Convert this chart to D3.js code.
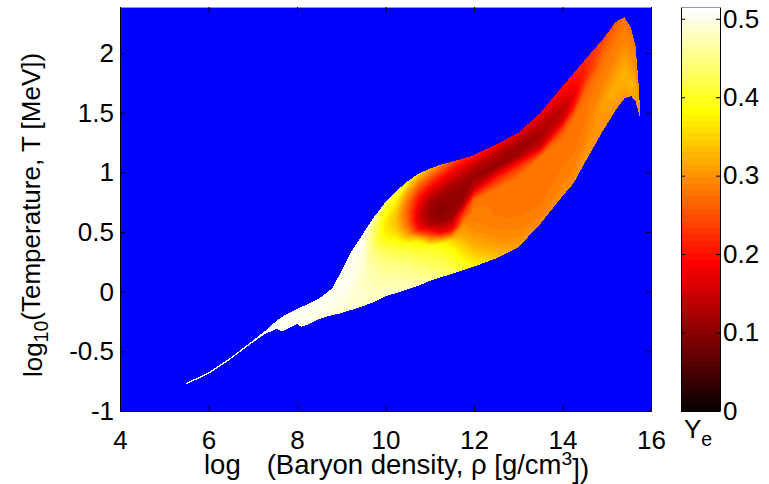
<!DOCTYPE html>
<meta charset="utf-8">
<script src="https://d3js.org/d3.v7.min.js"></script>
<style>
  body { margin: 0; background: #fff; }
  text { font-family: "Liberation Sans", Arial, Helvetica, sans-serif; }
</style>
<div id="chart"></div>
<script>

// columns across the (log rho, log T) strip, lower and upper edge of the strip
var rhoCols = [5.50, 6.00, 6.50, 7.00, 7.30, 7.55, 7.65, 7.80, 8.00, 8.10, 8.20, 8.50, 8.80,
  9.00, 9.25, 9.50, 9.75, 10.00, 10.25, 10.50, 10.75, 11.00, 11.25, 11.50, 11.75, 12.00,
  12.50, 13.00, 13.50, 14.00, 14.25, 14.50, 14.90, 15.20, 15.40, 15.55, 15.65, 15.72, 15.76];
var logTLow = [-0.775, -0.690, -0.565, -0.425, -0.350, -0.310, -0.332, -0.310, -0.270, -0.295, -0.282, -0.230, -0.195,
  -0.180, -0.150, -0.120, -0.085, -0.040, -0.010, 0.020, 0.050, 0.090, 0.120, 0.150, 0.180, 0.210,
  0.280, 0.370, 0.570, 0.800, 0.910, 1.080, 1.340, 1.520, 1.620, 1.640, 1.600, 1.500, 1.440];
var logTHigh = [-0.764, -0.677, -0.552, -0.410, -0.322, -0.240, -0.215, -0.180, -0.145, -0.128, -0.112, -0.058, 0.030,
  0.170, 0.350, 0.490, 0.630, 0.750, 0.845, 0.925, 0.990, 1.030, 1.065, 1.090, 1.115, 1.145,
  1.235, 1.330, 1.500, 1.720, 1.830, 1.940, 2.110, 2.260, 2.300, 2.210, 2.060, 1.740, 1.470];

// Ye across each column, from the lower edge (first) to the upper edge (last)
var yeStrip = [
  [0.51, 0.51, 0.51, 0.51, 0.51, 0.51, 0.51, 0.51, 0.51, 0.51, 0.51],
  [0.51, 0.51, 0.51, 0.51, 0.51, 0.51, 0.51, 0.51, 0.51, 0.51, 0.51],
  [0.51, 0.51, 0.51, 0.51, 0.51, 0.51, 0.51, 0.51, 0.51, 0.51, 0.51],
  [0.51, 0.51, 0.51, 0.51, 0.51, 0.51, 0.51, 0.51, 0.51, 0.51, 0.51],
  [0.51, 0.51, 0.51, 0.51, 0.51, 0.51, 0.51, 0.51, 0.51, 0.51, 0.51],
  [0.505, 0.505, 0.505, 0.505, 0.505, 0.505, 0.505, 0.505, 0.51, 0.51, 0.51],
  [0.50, 0.505, 0.505, 0.505, 0.505, 0.505, 0.505, 0.505, 0.51, 0.51, 0.51],
  [0.50, 0.50, 0.50, 0.505, 0.505, 0.505, 0.505, 0.505, 0.505, 0.51, 0.51],
  [0.495, 0.50, 0.50, 0.50, 0.505, 0.505, 0.505, 0.505, 0.505, 0.51, 0.51],
  [0.495, 0.495, 0.50, 0.50, 0.50, 0.505, 0.505, 0.505, 0.505, 0.51, 0.51],
  [0.495, 0.495, 0.50, 0.50, 0.50, 0.505, 0.505, 0.505, 0.505, 0.51, 0.51],
  [0.49, 0.495, 0.495, 0.50, 0.50, 0.50, 0.505, 0.505, 0.505, 0.505, 0.51],
  [0.49, 0.49, 0.495, 0.495, 0.50, 0.50, 0.50, 0.505, 0.505, 0.505, 0.51],
  [0.49, 0.49, 0.495, 0.495, 0.50, 0.50, 0.50, 0.505, 0.505, 0.505, 0.505],
  [0.485, 0.49, 0.49, 0.495, 0.495, 0.50, 0.50, 0.50, 0.505, 0.505, 0.505],
  [0.48, 0.485, 0.485, 0.48, 0.48, 0.485, 0.49, 0.495, 0.50, 0.50, 0.50],
  [0.485, 0.48, 0.475, 0.47, 0.465, 0.455, 0.44, 0.43, 0.43, 0.44, 0.47],
  [0.48, 0.475, 0.465, 0.455, 0.44, 0.42, 0.39, 0.37, 0.37, 0.39, 0.43],
  [0.48, 0.47, 0.46, 0.445, 0.42, 0.39, 0.35, 0.33, 0.34, 0.37, 0.42],
  [0.475, 0.465, 0.45, 0.43, 0.40, 0.32, 0.27, 0.26, 0.27, 0.31, 0.38],
  [0.47, 0.455, 0.435, 0.41, 0.37, 0.20, 0.16, 0.17, 0.21, 0.27, 0.35],
  [0.46, 0.44, 0.42, 0.40, 0.26, 0.13, 0.11, 0.12, 0.17, 0.24, 0.32],
  [0.45, 0.43, 0.41, 0.38, 0.18, 0.11, 0.10, 0.11, 0.15, 0.21, 0.29],
  [0.43, 0.41, 0.39, 0.35, 0.18, 0.115, 0.105, 0.11, 0.13, 0.18, 0.25],
  [0.41, 0.38, 0.35, 0.32, 0.30, 0.23, 0.12, 0.105, 0.12, 0.16, 0.22],
  [0.38, 0.35, 0.32, 0.30, 0.29, 0.285, 0.27, 0.15, 0.11, 0.14, 0.21],
  [0.34, 0.31, 0.295, 0.285, 0.28, 0.28, 0.28, 0.21, 0.11, 0.13, 0.19],
  [0.31, 0.295, 0.285, 0.28, 0.28, 0.28, 0.28, 0.23, 0.12, 0.12, 0.17],
  [0.295, 0.285, 0.28, 0.28, 0.28, 0.28, 0.275, 0.15, 0.12, 0.145, 0.18],
  [0.30, 0.29, 0.285, 0.28, 0.28, 0.28, 0.245, 0.15, 0.14, 0.17, 0.20],
  [0.30, 0.29, 0.285, 0.28, 0.28, 0.28, 0.27, 0.20, 0.17, 0.19, 0.21],
  [0.31, 0.30, 0.29, 0.285, 0.28, 0.28, 0.275, 0.26, 0.22, 0.21, 0.22],
  [0.30, 0.30, 0.305, 0.31, 0.30, 0.29, 0.285, 0.28, 0.27, 0.255, 0.24],
  [0.30, 0.31, 0.32, 0.32, 0.31, 0.30, 0.29, 0.285, 0.28, 0.27, 0.26],
  [0.30, 0.31, 0.32, 0.325, 0.32, 0.31, 0.30, 0.29, 0.285, 0.28, 0.275],
  [0.31, 0.32, 0.325, 0.32, 0.31, 0.30, 0.295, 0.29, 0.285, 0.28, 0.28],
  [0.31, 0.315, 0.32, 0.315, 0.31, 0.30, 0.295, 0.29, 0.29, 0.285, 0.285],
  [0.30, 0.30, 0.30, 0.30, 0.30, 0.30, 0.30, 0.30, 0.30, 0.30, 0.30],
  [0.30, 0.30, 0.30, 0.30, 0.30, 0.30, 0.30, 0.30, 0.30, 0.30, 0.30]
];

var xTicks = [4, 6, 8, 10, 12, 14, 16];
var yTicks = [-1, -0.5, 0, 0.5, 1, 1.5, 2];
var cbTicks = [0, 0.1, 0.2, 0.3, 0.4, 0.5];

var width = 769, height = 484;
var plot = {left: 120, right: 651, top: 7, bottom: 411};
var bar = {left: 681, right: 720};
var yeMax = 0.515, nLevels = 64;
var fontSize = 26;

var svg = d3.select("#chart").append("svg")
  .attr("width", width).attr("height", height)
  .style("display", "block");

var x = d3.scaleLinear().domain([4, 16]).range([plot.left, plot.right]);
var y = d3.scaleLinear().domain([-1, 2.386]).range([plot.bottom, plot.top]);
var yeScale = d3.scaleLinear().domain([0, yeMax]).range([plot.bottom, plot.top]);

// "hot" colour map, 64 steps: black -> red -> yellow -> white
function hot(k) {
  var r = Math.min(1, (k + 1) / 24),
      g = Math.max(0, Math.min(1, (k + 1 - 24) / 24)),
      b = Math.max(0, Math.min(1, (k + 1 - 48) / 16));
  return d3.rgb(r * 255, g * 255, b * 255).formatHex();
}

// axes background
svg.append("rect")
  .attr("x", plot.left).attr("y", plot.top)
  .attr("width", plot.right - plot.left).attr("height", plot.bottom - plot.top)
  .attr("fill", "#0000ff");

// filled contours on the strip grid
var nc = rhoCols.length, ns = yeStrip[0].length;
var grid = new Array(nc * ns);
for (var j = 0; j < ns; j++)
  for (var i = 0; i < nc; i++) grid[j * nc + i] = yeStrip[i][j];

var levels = d3.range(nLevels).map(function(k) { return k * yeMax / nLevels; });
var bands = d3.contours().size([nc, ns]).thresholds(levels)(grid);

// grid coordinates -> screen, through the strip's column edges
function toScreen(u, v) {
  var ci = Math.max(0, Math.min(nc - 1, u - 0.5));
  var i0 = Math.min(nc - 2, Math.floor(ci)), f = ci - i0;
  var rho = rhoCols[i0] + f * (rhoCols[i0 + 1] - rhoCols[i0]);
  var lo = logTLow[i0] + f * (logTLow[i0 + 1] - logTLow[i0]);
  var hi = logTHigh[i0] + f * (logTHigh[i0 + 1] - logTHigh[i0]);
  var s = Math.max(0, Math.min(ns - 1, v - 0.5)) / (ns - 1);
  return [x(rho), y(lo + s * (hi - lo))];
}

function ringPath(ring) {
  var pts = [];
  for (var k = 0; k < ring.length - 1; k++) {
    var a = ring[k], b = ring[k + 1];
    var n = Math.max(1, Math.ceil(Math.hypot(b[0] - a[0], b[1] - a[1]) / 0.1));
    for (var m = 0; m < n; m++)
      pts.push(toScreen(a[0] + (b[0] - a[0]) * m / n, a[1] + (b[1] - a[1]) * m / n));
  }
  return "M" + pts.map(function(p) { return p[0].toFixed(2) + "," + p[1].toFixed(2); }).join("L") + "Z";
}

svg.append("g").selectAll("path")
  .data(bands.filter(function(c) { return c.coordinates.length; }))
  .enter().append("path")
    .attr("d", function(c) {
      return c.coordinates.map(function(poly) { return poly.map(ringPath).join(""); }).join("");
    })
    .attr("fill", function(c) { return hot(Math.round(c.value / yeMax * nLevels)); })
    .attr("fill-rule", "evenodd")
    .attr("shape-rendering", "crispEdges");

// axes, ticks inward on all four sides
function styleAxis(g) {
  g.selectAll("text").style("font-size", fontSize + "px").attr("fill", "#000");
  g.selectAll("line").attr("stroke", "#000");
  g.select(".domain").attr("stroke", "#000");
}
var fmt = function(d) { return String(d); };

svg.append("g").attr("transform", "translate(0," + plot.bottom + ")")
  .call(d3.axisBottom(x).tickValues(xTicks).tickFormat(fmt).tickSizeInner(-5).tickSizeOuter(0).tickPadding(20))
  .call(styleAxis);
svg.append("g").attr("transform", "translate(" + plot.left + ",0)")
  .call(d3.axisLeft(y).tickValues(yTicks).tickFormat(fmt).tickSizeInner(-5).tickSizeOuter(0).tickPadding(6))
  .call(styleAxis);
svg.append("g").attr("transform", "translate(0," + plot.top + ")")
  .call(d3.axisTop(x).tickValues(xTicks).tickFormat("").tickSizeInner(-5).tickSizeOuter(0))
  .call(styleAxis)
  .select(".domain").attr("stroke", "#999");
svg.append("g").attr("transform", "translate(" + plot.right + ",0)")
  .call(d3.axisRight(y).tickValues(yTicks).tickFormat("").tickSizeInner(-5).tickSizeOuter(0))
  .call(styleAxis);

// colour bar
svg.append("g").selectAll("rect")
  .data(d3.range(nLevels))
  .enter().append("rect")
    .attr("x", bar.left)
    .attr("y", function(k) { return yeScale((k + 1) * yeMax / nLevels); })
    .attr("width", bar.right - bar.left)
    .attr("height", function(k) { return yeScale(k * yeMax / nLevels) - yeScale((k + 1) * yeMax / nLevels); })
    .attr("fill", function(k) { return hot(k); })
    .attr("shape-rendering", "crispEdges");

svg.append("g").attr("transform", "translate(" + bar.right + ",0)")
  .call(d3.axisRight(yeScale).tickValues(cbTicks).tickFormat(fmt).tickSizeInner(-4).tickSizeOuter(0).tickPadding(3))
  .call(styleAxis);
svg.append("g").attr("transform", "translate(" + bar.left + ",0)")
  .call(d3.axisLeft(yeScale).tickValues(cbTicks).tickFormat("").tickSizeInner(-4).tickSizeOuter(0))
  .call(styleAxis);
svg.append("line")
  .attr("x1", bar.left).attr("x2", bar.right)
  .attr("y1", plot.top + 0.5).attr("y2", plot.top + 0.5)
  .attr("stroke", "#999");
svg.append("line")
  .attr("x1", bar.left).attr("x2", bar.right)
  .attr("y1", plot.bottom + 0.5).attr("y2", plot.bottom + 0.5)
  .attr("stroke", "#000");

// labels
var ylab = svg.append("text")
  .attr("transform", "translate(42,215) rotate(-90)")
  .attr("text-anchor", "middle")
  .style("font-size", fontSize + "px");
ylab.append("tspan").text("log");
ylab.append("tspan").attr("dy", "0.3em").style("font-size", "0.75em").text("10");
ylab.append("tspan").attr("dy", "-0.3em").text("(Temperature, T [MeV])");

var xlab = svg.append("text")
  .attr("x", 204).attr("y", 474)
  .style("font-size", "27.5px");
xlab.append("tspan").text("log");
xlab.append("tspan").attr("dx", 26).text("(Baryon density, \u03c1 [g/cm");
xlab.append("tspan").attr("dy", "-0.45em").style("font-size", "0.7em").text("3");
xlab.append("tspan").attr("dy", "0.45em").text("])");

var yeLab = svg.append("text")
  .attr("x", 684).attr("y", 438)
  .style("font-size", fontSize + "px");
yeLab.append("tspan").text("Y");
yeLab.append("tspan").attr("dy", "0.42em").style("font-size", "0.75em").text("e");

</script>
